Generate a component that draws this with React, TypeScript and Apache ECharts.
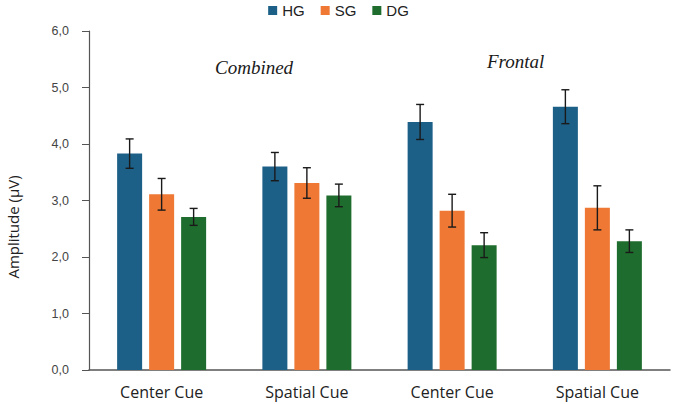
import React, { useEffect, useRef } from "react";
import * as echarts from "echarts";

const categories = ["Center Cue", "Spatial Cue", "Center Cue", "Spatial Cue"];
const groupNames = ["HG", "SG", "DG"];
const hgValues = [3.83, 3.6, 4.39, 4.66];
const sgValues = [3.11, 3.31, 2.82, 2.87];
const dgValues = [2.71, 3.09, 2.21, 2.28];
const hgErrors = [0.26, 0.25, 0.31, 0.3];
const sgErrors = [0.28, 0.27, 0.29, 0.39];
const dgErrors = [0.15, 0.2, 0.22, 0.2];
const yTicks = [0, 1, 2, 3, 4, 5, 6];

const colors = ["#1c5f87", "#ee7834", "#1f6d2e"];
const BAR_W = 25;
const BAR_GAP = 7;

export default function App() {
  const ref = useRef<HTMLDivElement>(null);

  useEffect(() => {
    if (!ref.current) return;
    const chart = echarts.init(ref.current, null, { renderer: "svg" });
    const values = [hgValues, sgValues, dgValues];
    const errors = [hgErrors, sgErrors, dgErrors];

    const barSeries = groupNames.map((name, i) => ({
      name,
      type: "bar",
      data: values[i],
      barWidth: BAR_W,
      barGap: `${(BAR_GAP / BAR_W) * 100}%`,
      itemStyle: { color: colors[i] },
      z: 2,
    }));

    // whiskers drawn at each bar's centre (bars are offset by width + gap)
    const errorSeries = groupNames.map((name, i) => ({
      name: name + "-err",
      type: "custom",
      z: 5,
      data: values[i].map((v, k) => [k, v - errors[i][k], v + errors[i][k]]),
      renderItem: (params: any, api: any) => {
        const x = api.value(0);
        const lo = api.coord([x, api.value(1)]);
        const hi = api.coord([x, api.value(2)]);
        const cx = lo[0] + (i - 1) * (BAR_W + BAR_GAP);
        const cap = 4;
        const style = { stroke: "#1a1a1a", lineWidth: 1.4 };
        return {
          type: "group",
          children: [
            { type: "line", shape: { x1: cx, y1: hi[1], x2: cx, y2: lo[1] }, style },
            { type: "line", shape: { x1: cx - cap, y1: hi[1], x2: cx + cap, y2: hi[1] }, style },
            { type: "line", shape: { x1: cx - cap, y1: lo[1], x2: cx + cap, y2: lo[1] }, style },
          ],
        };
      },
      encode: { x: 0, y: [1, 2] },
      silent: true,
    }));

    chart.setOption({
      animation: false,
      backgroundColor: "#ffffff",
      legend: {
        data: groupNames,
        top: -2,
        left: "center",
        itemWidth: 9,
        itemHeight: 9,
        itemGap: 16,
        icon: "rect",
        textStyle: { fontFamily: "Liberation Sans", fontSize: 15, color: "#222" },
      },
      grid: { left: 89, right: 7, top: 31, bottom: 34, containLabel: false },
      xAxis: {
        type: "category",
        data: categories,
        axisLine: { lineStyle: { color: "#555", width: 1.5 } },
        axisTick: { show: false },
        axisLabel: {
          fontFamily: "Open Sans",
          fontSize: 16,
          color: "#222",
          margin: 14,
        },
      },
      yAxis: {
        type: "value",
        min: yTicks[0],
        max: yTicks[yTicks.length - 1],
        interval: 1,
        axisLine: { show: true, lineStyle: { color: "#555", width: 1.2 } },
        axisTick: { show: true, length: 7, lineStyle: { color: "#555" } },
        splitLine: { show: false },
        axisLabel: {
          fontFamily: "Liberation Sans",
          fontSize: 12.5,
          color: "#444",
          margin: 20,
          formatter: (v: number) => v.toFixed(1).replace(".", ","),
        },
      },
      graphic: [
        {
          type: "text",
          x: 13,
          y: 227,
          rotation: Math.PI / 2,
          style: {
            text: "Amplitude (\u00b5V)",
            font: "15px 'Open Sans'",
            fill: "#222",
            align: "center",
            verticalAlign: "middle",
          },
        },
        {
          type: "text",
          left: 215,
          top: 58,
          style: {
            text: "Combined",
            font: "italic 19px 'Liberation Serif'",
            fill: "#1a1a1a",
          },
        },
        {
          type: "text",
          left: 487,
          top: 52,
          style: {
            text: "Frontal",
            font: "italic 19px 'Liberation Serif'",
            fill: "#1a1a1a",
          },
        },
      ],
      series: [...barSeries, ...errorSeries],
    });

    return () => chart.dispose();
  }, []);

  return (
    <div
      ref={ref}
      style={{ position: "absolute", left: 0, top: 0, width: 677, height: 404 }}
    />
  );
}
